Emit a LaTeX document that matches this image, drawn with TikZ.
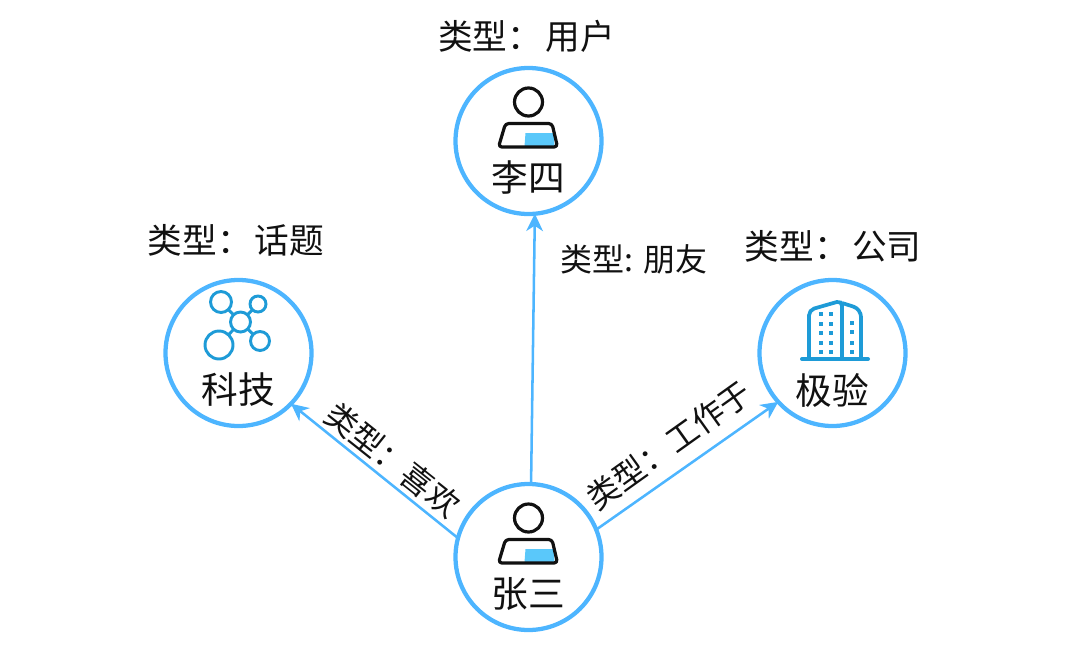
\documentclass[tikz,border=0pt]{standalone}
\usepackage{fontspec}
\setmainfont{Noto Sans CJK SC}
\usetikzlibrary{arrows.meta}
\definecolor{ringblue}{HTML}{4DB5FF}
\definecolor{fillblue}{HTML}{5AC8FA}
\definecolor{iconblue}{HTML}{1E9BD7}
\definecolor{inkdark}{HTML}{111111}
\tikzset{
  ring/.style={circle,draw=ringblue,line width=3.2pt,minimum size=109.5pt,inner sep=0pt,outer sep=0pt},
  name label/.style={font=\fontsize{27.5pt}{30pt}\selectfont,text=inkdark,inner sep=0pt},
  type label/.style={font=\fontsize{26pt}{28pt}\selectfont,text=inkdark,inner sep=0pt},
  edge label/.style={font=\fontsize{24pt}{28pt}\selectfont,text=inkdark,inner sep=0pt},
  link/.style={draw=ringblue,line width=1.9pt,-{Stealth[length=13pt,width=12.5pt,inset=4pt]}},
  iconline/.style={draw=iconblue,line width=2.2pt},
  person/.pic={
    \fill[fillblue] (-3,-8) -- (25,-8) -- (26,5) -- (-4,5) -- cycle;
    \draw[inkdark,line width=2.4pt] (0,-39) circle (14);
    \draw[inkdark,line width=2.4pt,rounded corners=2.5pt,line join=round]
      (-23,-17.5) -- (23.5,-17.5) -- (29,6) -- (-30,6) -- cycle;
  },
}
\begin{document}
\begin{tikzpicture}[x=0.75pt,y=-0.75pt]
\useasboundingbox (0,0) rectangle (1080,671);
\node[ring] (L) at (528.5,141) {};
\node[ring] (K) at (238.5,353) {};
\node[ring] (J) at (832.5,353) {};
\node[ring] (Z) at (528.5,557) {};
\draw[link] (Z.88) -- (L.275);
\draw[link] (Z.165) -- (K.-44);
\draw[link] (Z.22) -- (J.222);
\pic at (L) {person};
\pic at (Z) {person};
% network icon
\coordinate (nc) at (240.5,322);
\coordinate (n1) at (221,302);
\coordinate (n2) at (258,304);
\coordinate (n3) at (219,345);
\coordinate (n4) at (260,341);
\draw[iconline] (nc) -- (n1) (nc) -- (n2) (nc) -- (n3) (nc) -- (n4);
\draw[iconline,fill=white] (nc) circle (10);
\draw[iconline,fill=white] (n1) circle (10.5);
\draw[iconline,fill=white] (n2) circle (8);
\draw[iconline,fill=white] (n3) circle (14);
\draw[iconline,fill=white] (n4) circle (9.5);
% building icon
\draw[iconblue,line width=3pt,line cap=round] (802,359) -- (868,359);
\draw[iconline,line width=2.8pt,rounded corners=4pt] (809,358) -- (809,310) -- (842,300.5) -- (842,358);
\draw[iconline,line width=2.8pt,rounded corners=6pt] (842,303) -- (861,309) -- (861,358);
\foreach \wx in {821,831}{\foreach \wy in {314,324,333,343,352}{
  \fill[iconblue] (\wx-2.4,\wy-2.4) rectangle (\wx+2.4,\wy+2.4);}}
\foreach \wy in {323,332,343,352}{
  \fill[iconblue] (849.6,\wy-2.4) rectangle (854.4,\wy+2.4);}
% names
\node[name label] (nL) at (528,178) {李四};
\node[name label] (nK) at (238,390) {科技};
\node[name label] (nJ) at (832,390) {极验};
\node[name label] (nZ) at (528,594) {张三};
% type labels
\node[type label] (tL) at (526.5,36) {类型：\hspace{2.5pt}用户};
\node[type label] (tK) at (236,240) {类型：\hspace{2.5pt}话题};
\node[type label] (tJ) at (833,246) {类型：\hspace{2.5pt}公司};
% edge labels
\node[edge label] (eL) at (634,259) {类型: 朋友};
\node[edge label,rotate=-38.5] (eK) at (393,460) {类型：喜欢};
\node[edge label,rotate=35.5] (eJ) at (669,445) {类型：\hspace{1pt}工作于};
\end{tikzpicture}
\end{document}
